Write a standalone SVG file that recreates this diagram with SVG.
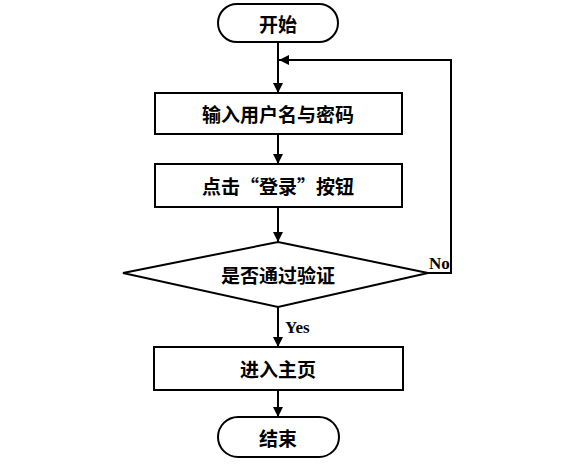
<svg xmlns="http://www.w3.org/2000/svg" width="571" height="470" viewBox="0 0 571 470">
<style>
.s{fill:#fff;stroke:#000;stroke-width:2}
.t{font-family:"Noto Sans CJK SC","Noto Sans",sans-serif;font-weight:bold;font-size:19px;fill:#000;text-anchor:middle;dominant-baseline:central}
.l{font-family:"Liberation Serif","DejaVu Serif",serif;font-weight:bold;font-size:17px;fill:#000}
.c{fill:none;stroke:#000;stroke-width:2}
</style>
<defs>
<marker id="a" viewBox="0 0 10 10" refX="10" refY="5" markerWidth="5" markerHeight="5" orient="auto" markerUnits="strokeWidth">
<path d="M0,0 L10,5 L0,10 z" fill="#000"/>
</marker>
</defs>
<g id="connectors">
<path class="c" d="M278,42 V93" marker-end="url(#a)"/>
<path class="c" d="M278,134 V164" marker-end="url(#a)"/>
<path class="c" d="M278,207 V242" marker-end="url(#a)"/>
<path class="c" d="M278,307 V347" marker-end="url(#a)"/>
<path class="c" d="M278,390 V417" marker-end="url(#a)"/>
<path class="c" d="M428,273 H451 V60 H279" marker-end="url(#a)"/>
<text class="l" x="429" y="269">No</text>
<text class="l" x="285" y="333">Yes</text>
</g>
<g id="start">
<rect class="s" x="218" y="4" width="120" height="38" rx="19"/>
<text class="t" x="278" y="23">开始</text>
</g>
<g id="input">
<rect class="s" x="155" y="93" width="247" height="41"/>
<text class="t" x="278" y="113.5">输入用户名与密码</text>
</g>
<g id="click">
<rect class="s" x="155" y="164" width="247" height="43"/>
<text class="t" x="278" y="185.5">点击“登录”按钮</text>
</g>
<g id="verify">
<polygon class="s" points="278,242 428,273 278,307 123,273"/>
<text class="t" x="278" y="274">是否通过验证</text>
</g>
<g id="home">
<rect class="s" x="154" y="347" width="249" height="43"/>
<text class="t" x="278" y="368.5">进入主页</text>
</g>
<g id="end">
<rect class="s" x="218" y="417" width="121" height="40" rx="20"/>
<text class="t" x="278" y="437">结束</text>
</g>
</svg>
